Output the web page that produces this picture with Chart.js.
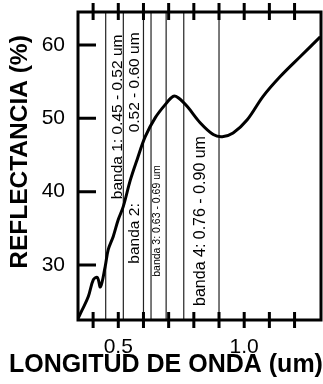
<!DOCTYPE html>
<html>
<head>
<meta charset="utf-8">
<script src="https://cdn.jsdelivr.net/npm/chart.js@4.4.1/dist/chart.umd.min.js"></script>
<style>
  html, body { margin: 0; padding: 0; background: #fff; }
  #wrap { position: relative; width: 323px; height: 384px; }
</style>
</head>
<body>
<div id="wrap"><canvas id="myChart"></canvas></div>
<script>
// spectral reflectance curve
const wavelength = [0.34, 0.357, 0.381, 0.401, 0.417, 0.429, 0.448, 0.46, 0.48, 0.5, 0.52, 0.548, 0.575, 0.607,
  0.647, 0.687, 0.718, 0.738, 0.774, 0.825, 0.877, 0.913, 0.956, 1.012, 1.075, 1.143, 1.222, 1.302];
const reflectance = [22.7, 23.9, 25.7, 28.0, 28.3, 27.0, 29.8, 32.1, 33.9, 36.2, 38.0, 41.6, 44.4, 47.5,
  50.1, 51.9, 53.0, 52.8, 51.6, 49.4, 47.8, 47.5, 48.0, 49.8, 53.0, 55.7, 58.4, 61.1];

// band limits (um)
const bandEdges = [0.45, 0.52, 0.60, 0.63, 0.69, 0.76, 0.90];
const bandTexts = ["banda 1: 0.45 - 0.52 um", "banda 2:", "0.52 - 0.60 um", "banda 3: 0.63 - 0.69 um", "banda 4: 0.76 - 0.90 um"];

const xTickValues = [0.4, 0.5, 0.6, 0.7, 0.8, 0.9, 1.0, 1.1, 1.2];
const xLabeled = [0.5, 1.0];
const yTickValues = [30, 40, 50, 60];

const xMin = 0.34, xMax = 1.305;
const yMin = 22.5, yMax = 64.5;

// where each band text sits (data units) and its size
const bandTextLayout = [
  { x: 0.496, y: 50.2, size: 15.5 },
  { x: 0.566, y: 34.3, size: 15.5 },
  { x: 0.566, y: 54.9, size: 15.5 },
  { x: 0.653, y: 36.0, size: 10.5 },
  { x: 0.826, y: 36.0, size: 16 }
];

const FONT = "'Liberation Sans', Arial, sans-serif";

const bandLineSets = bandEdges.map((v) => ({
  type: "line",
  data: [{ x: v, y: yMin }, { x: v, y: yMax }],
  borderColor: "#222",
  borderWidth: 1.2,
  pointRadius: 0,
  order: 1
}));

// frame, tick marks, band texts and axis titles
const decorPlugin = {
  id: "decor",
  afterDatasetsDraw(chart) {
    const ctx = chart.ctx;
    const a = chart.chartArea;
    const xs = chart.scales.x;
    const ys = chart.scales.y;
    ctx.save();
    ctx.strokeStyle = "#000";
    ctx.lineWidth = 3;
    ctx.strokeRect(a.left, a.top, a.right - a.left, a.bottom - a.top);

    ctx.beginPath();
    xTickValues.forEach((v) => {
      const px = xs.getPixelForValue(v);
      ctx.moveTo(px, a.top - 9);
      ctx.lineTo(px, a.top + 8);
      ctx.moveTo(px, a.bottom - 8);
      ctx.lineTo(px, a.bottom + 8);
    });
    yTickValues.forEach((v) => {
      const py = ys.getPixelForValue(v);
      ctx.moveTo(a.left, py);
      ctx.lineTo(a.left + 18, py);
    });
    ctx.stroke();

    ctx.fillStyle = "#000";
    ctx.textAlign = "center";
    ctx.textBaseline = "middle";
    bandTexts.forEach((t, i) => {
      const L = bandTextLayout[i];
      ctx.save();
      ctx.translate(xs.getPixelForValue(L.x), ys.getPixelForValue(L.y));
      ctx.rotate(-Math.PI / 2);
      ctx.font = L.size + "px " + FONT;
      ctx.fillText(t, 0, 0);
      ctx.restore();
    });

    // axis titles
    ctx.font = "bold 25px " + FONT;
    ctx.fillText("LONGITUD DE ONDA (um)", 166, 365);
    ctx.save();
    ctx.translate(20, 152);
    ctx.rotate(-Math.PI / 2);
    ctx.font = "bold 24.5px " + FONT;
    ctx.fillText("REFLECTANCIA (%)", 0, 0);
    ctx.restore();
    ctx.restore();
  }
};

function noPad(s) {
  s.paddingTop = 0;
  s.paddingBottom = 0;
  s.paddingLeft = 0;
  s.paddingRight = 0;
}

window.addEventListener("load", function () {
  const data = {
    datasets: [
      {
        type: "line",
        label: "Reflectancia",
        data: wavelength.map((w, i) => ({ x: w, y: reflectance[i] })),
        borderColor: "#000",
        borderWidth: 3,
        pointRadius: 0,
        tension: 0.35,
        order: 0
      },
      ...bandLineSets
    ]
  };

  const config = {
    type: "line",
    data,
    options: {
      responsive: true,
      maintainAspectRatio: false,
      animation: false,
      layout: { padding: { left: 0, top: 12, right: 2, bottom: 0 } },
      plugins: { legend: { display: false }, tooltip: { enabled: false } },
      scales: {
        x: {
          type: "linear",
          min: xMin,
          max: xMax,
          afterBuildTicks: (s) => { s.ticks = xTickValues.map((v) => ({ value: v })); },
          afterFit: (s) => { s.height = 64; noPad(s); },
          grid: { display: false, drawTicks: false, tickLength: 0 },
          border: { display: false },
          ticks: {
            autoSkip: false,
            maxRotation: 0,
            padding: 15,
            color: "#000",
            font: { family: FONT, size: 21 },
            callback: (v) => (xLabeled.includes(v) ? v.toFixed(1) : "")
          }
        },
        y: {
          min: yMin,
          max: yMax,
          afterBuildTicks: (s) => { s.ticks = yTickValues.map((v) => ({ value: v })); },
          afterFit: (s) => { s.width = 78; noPad(s); },
          grid: { display: false, drawTicks: false, tickLength: 0 },
          border: { display: false },
          ticks: {
            padding: 13,
            color: "#000",
            font: { family: FONT, size: 21 }
          }
        }
      }
    },
    plugins: [decorPlugin]
  };

  const myChart = new Chart(document.getElementById("myChart"), config);
});
</script>
</body>
</html>
